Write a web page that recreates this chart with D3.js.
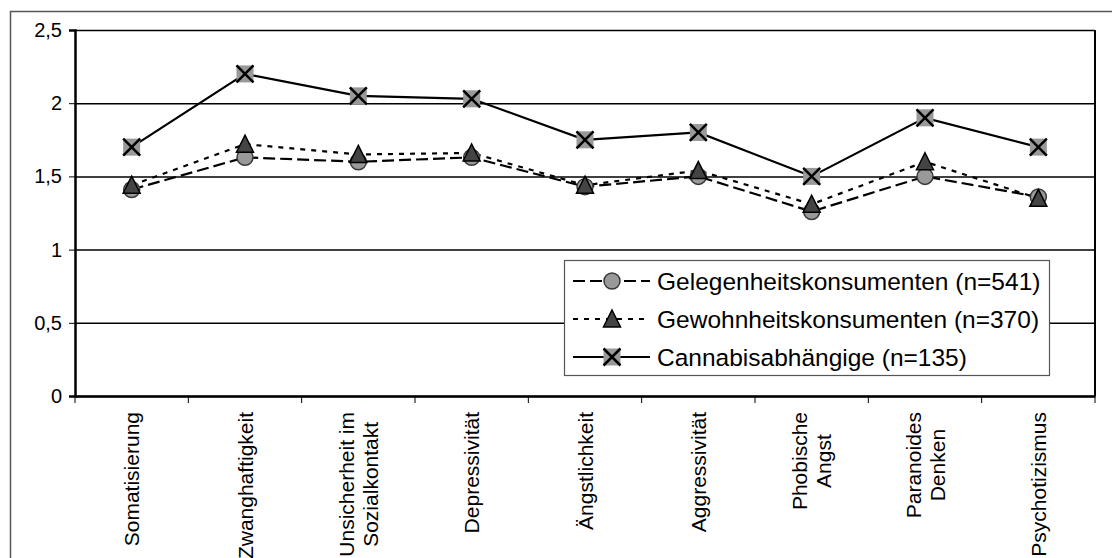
<!DOCTYPE html>
<html>
<head>
<meta charset="utf-8">
<script src="https://cdn.jsdelivr.net/npm/d3@7"></script>
<style>
    body { margin: 0; background: #fff; }
    svg { display: block; font-family: "Liberation Sans", Arial, sans-serif; }
</style>
</head>
<body>
<svg id="grafico" width="1112" height="558"></svg>
<script>
const categorias = [
    ['Somatisierung'],
    ['Zwanghaftigkeit'],
    ['Unsicherheit im', 'Sozialkontakt'],
    ['Depressivität'],
    ['Ängstlichkeit'],
    ['Aggressivität'],
    ['Phobische', 'Angst'],
    ['Paranoides', 'Denken'],
    ['Psychotizismus']
]

const gelegenheit = [1.41, 1.63, 1.60, 1.63, 1.43, 1.50, 1.26, 1.50, 1.36]
const gewohnheit = [1.44, 1.72, 1.65, 1.66, 1.44, 1.54, 1.31, 1.60, 1.35]
const cannabis = [1.70, 2.20, 2.05, 2.03, 1.75, 1.80, 1.50, 1.90, 1.70]

const nomes = ['Gelegenheitskonsumenten (n=541)', 'Gewohnheitskonsumenten (n=370)', 'Cannabisabhängige (n=135)']
const yTicks = [0, 0.5, 1, 1.5, 2, 2.5]

function grafico_linhas (div) {
    const svg = d3.select(div)

    const margin = { top: 30, left: 75 }
    const width = 1020
    const height = 366

    /*outer frame*/
    svg.append('rect')
        .attr('x', 10.5).attr('y', 11.5)
        .attr('width', 1120).attr('height', 600)
        .attr('fill', 'none')
        .attr('stroke', '#555')
        .attr('stroke-width', 1.5)

    const chart = svg.append('g')
        .attr('transform', `translate(${margin.left}, ${margin.top})`)

    const xScale = d3.scaleBand()
        .range([0, width])
        .domain(categorias.map((c, i) => i))
        .padding(0)

    const yScale = d3.scaleLinear()
        .range([height, 0])
        .domain([0, 2.5])

    const cx = (i) => xScale(i) + xScale.bandwidth() / 2

    /*grid*/
    chart.append('g')
        .attr('class', 'grid')
        .call(d3.axisLeft(yScale)
            .tickValues(yTicks)
            .tickSize(-width)
            .tickFormat('')
        )
        .call(g => g.select('.domain').remove())
        .call(g => g.selectAll('line').attr('stroke', '#000').attr('stroke-width', 1.5))

    /*right border*/
    chart.append('line')
        .attr('x1', width).attr('x2', width)
        .attr('y1', 0).attr('y2', height)
        .attr('stroke', '#000').attr('stroke-width', 2)

    /*y axis*/
    const yAxis = chart.append('g')
        .call(d3.axisLeft(yScale)
            .tickValues(yTicks)
            .tickSize(6)
            .tickPadding(7)
            .tickFormat(d => String(d).replace('.', ','))
        )
    yAxis.select('.domain').attr('stroke', '#000').attr('stroke-width', 2.5)
    yAxis.selectAll('line').attr('stroke', '#000').attr('stroke-width', 1)
    yAxis.selectAll('text')
        .attr('font-size', 20)
        .attr('font-family', '"Liberation Sans", Arial, sans-serif')
        .attr('fill', '#000')

    /*x axis*/
    const xAxis = chart.append('g')
        .attr('transform', `translate(0, ${height})`)
        .call(d3.axisBottom(xScale).tickSize(0).tickFormat(''))
    xAxis.select('.domain').attr('stroke', '#000').attr('stroke-width', 2.5)

    chart.append('g')
        .selectAll('line')
        .data(d3.range(categorias.length + 1))
        .enter()
        .append('line')
        .attr('x1', (i) => i * xScale.step())
        .attr('x2', (i) => i * xScale.step())
        .attr('y1', height)
        .attr('y2', height + 7)
        .attr('stroke', '#000')
        .attr('stroke-width', 1)

    /*x labels rotated*/
    const labels = chart.append('g')
        .selectAll('g')
        .data(categorias)
        .enter()
        .append('g')
        .attr('transform', (c, i) => `translate(${cx(i)}, ${height + 16}) rotate(-90)`)

    labels.each(function (linhas) {
        const g = d3.select(this)
        const txt = linhas.map((l, k) => g.append('text')
            .attr('font-size', 21)
            .attr('fill', '#000')
            .attr('text-anchor', 'middle')
            .attr('y', 7.5 + (k - (linhas.length - 1) / 2) * 24)
            .text(l))
        const L = d3.max(txt, t => t.node().getComputedTextLength())
        txt.forEach(t => t.attr('x', -L / 2))
    })

    const series = [
        { nome: nomes[0], valores: gelegenheit, dash: '12,5', marker: 'circle' },
        { nome: nomes[1], valores: gewohnheit, dash: '5,6', marker: 'triangle' },
        { nome: nomes[2], valores: cannabis, dash: null, marker: 'cross' }
    ]

    const linha = d3.line()
        .x((v, i) => cx(i))
        .y((v) => yScale(v))

    series.forEach(s => {
        chart.append('path')
            .datum(s.valores)
            .attr('fill', 'none')
            .attr('stroke', '#000')
            .attr('stroke-width', 2.2)
            .attr('stroke-dasharray', s.dash)
            .attr('d', linha)
    })

    function desenhar_marcador (g, tipo) {
        if (tipo == 'circle') {
            g.append('circle')
                .attr('r', 8)
                .attr('fill', '#999')
                .attr('stroke', '#3a3a3a')
                .attr('stroke-width', 1.5)
        } else if (tipo == 'triangle') {
            g.append('path')
                .attr('d', 'M0,-9L8.5,8L-8.5,8Z')
                .attr('fill', '#444')
                .attr('stroke', '#000')
                .attr('stroke-width', 1.5)
        } else {
            g.append('rect')
                .attr('x', -8.5).attr('y', -8.5)
                .attr('width', 17).attr('height', 17)
                .attr('fill', '#999')
            g.append('path')
                .attr('d', 'M-8.5,-8.5L8.5,8.5M8.5,-8.5L-8.5,8.5')
                .attr('stroke', '#000')
                .attr('stroke-width', 2.5)
        }
    }

    series.forEach(s => {
        chart.append('g')
            .selectAll('g')
            .data(s.valores)
            .enter()
            .append('g')
            .attr('transform', (v, i) => `translate(${cx(i)}, ${yScale(v)})`)
            .each(function () { desenhar_marcador(d3.select(this), s.marker) })
    })

    /*legenda*/
    const legenda = svg.append('g')
        .attr('transform', 'translate(564, 260)')

    legenda.append('rect')
        .attr('x', 0.5).attr('y', 0.5)
        .attr('width', 485).attr('height', 115)
        .attr('fill', '#fff')
        .attr('stroke', '#555')
        .attr('stroke-width', 1.2)

    const itens = legenda.selectAll('g.item')
        .data(series)
        .enter()
        .append('g')
        .attr('class', 'item')
        .attr('transform', (s, i) => `translate(0, ${21 + i * 38})`)

    itens.append('line')
        .attr('x1', 9).attr('x2', 86)
        .attr('stroke', '#000')
        .attr('stroke-width', 2.2)
        .attr('stroke-dasharray', (s) => s.dash)

    itens.append('g')
        .attr('transform', 'translate(48, 0)')
        .each(function (s) { desenhar_marcador(d3.select(this), s.marker) })

    itens.append('text')
        .attr('x', 93)
        .attr('dy', '0.35em')
        .attr('font-size', 24.5)
        .attr('fill', '#000')
        .text((s) => s.nome)
}

grafico_linhas('#grafico')
</script>
</body>
</html>
